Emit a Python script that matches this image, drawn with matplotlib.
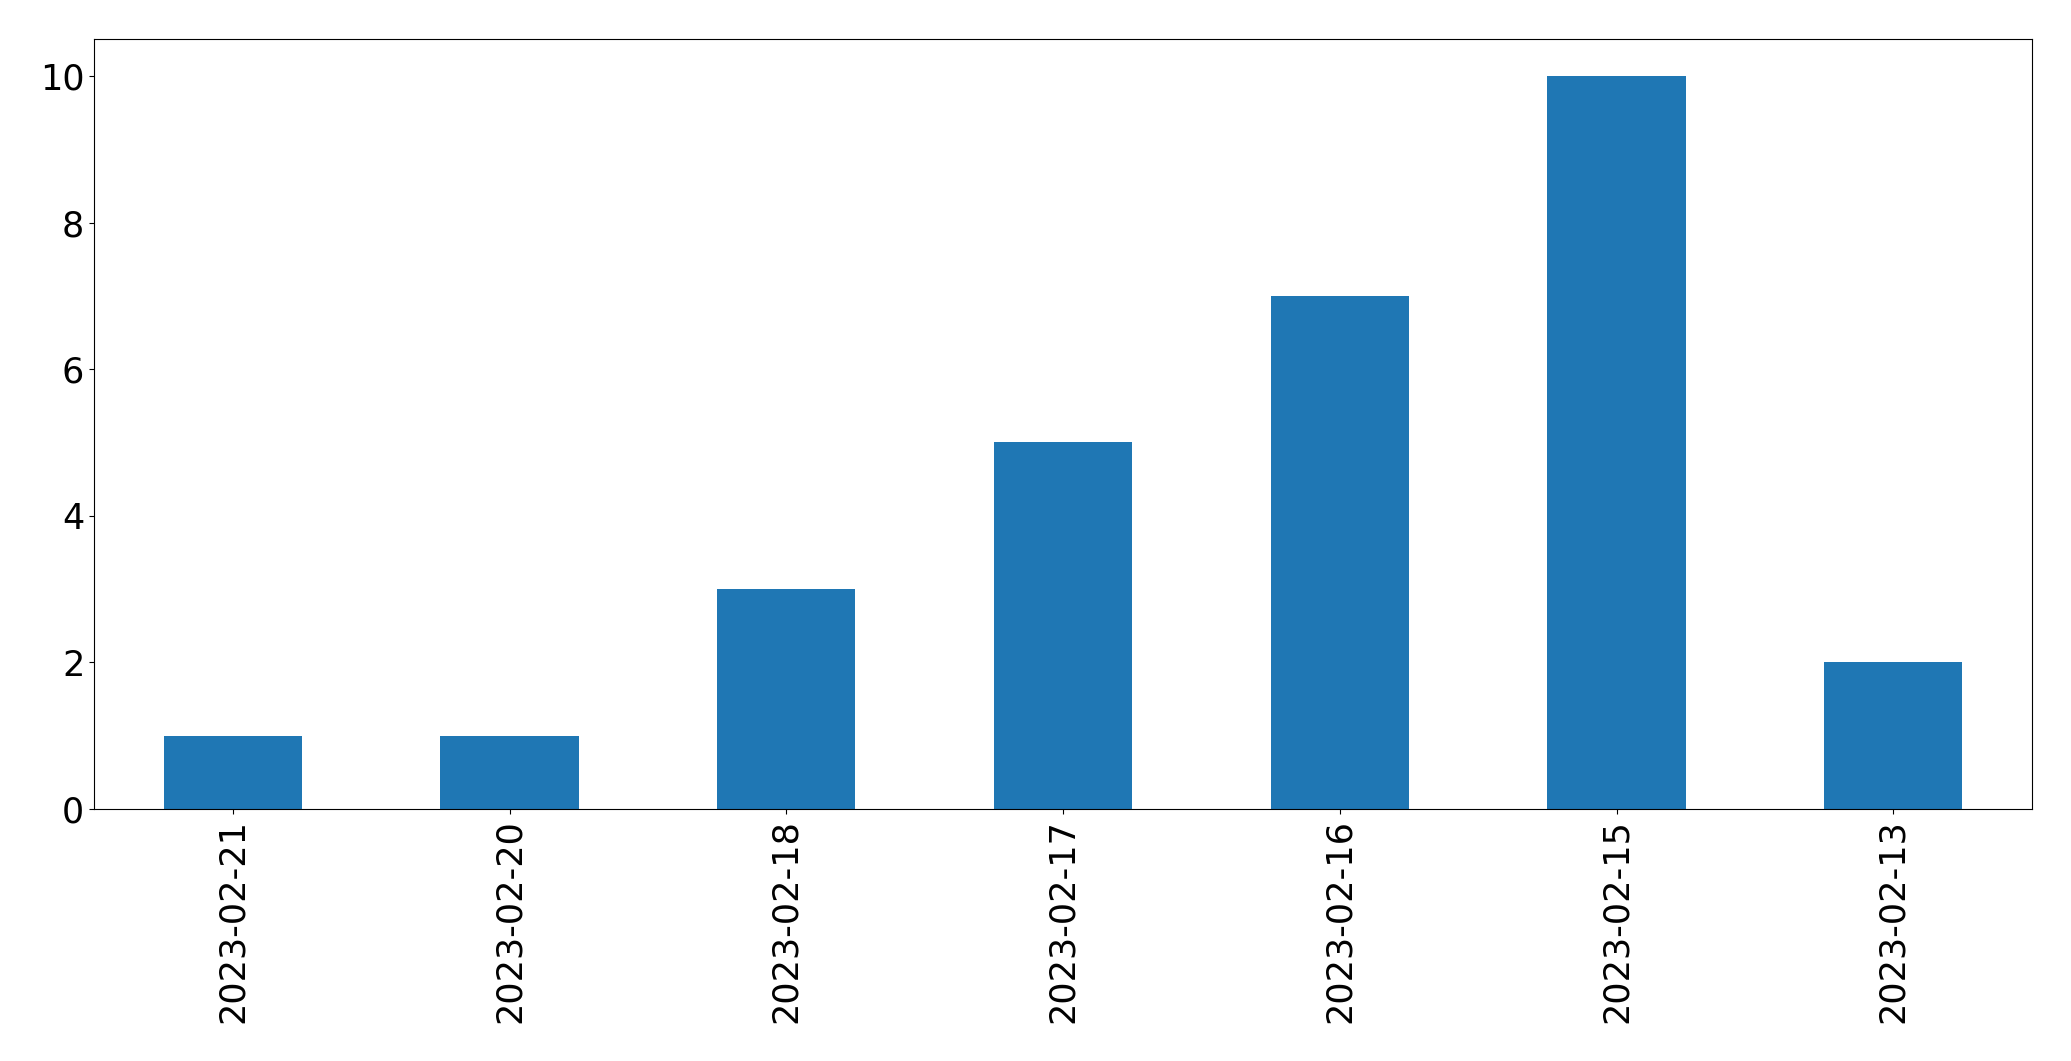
import matplotlib
matplotlib.use("Agg")
import matplotlib.pyplot as plt

dates = ["2023-02-21", "2023-02-20", "2023-02-18", "2023-02-17",
         "2023-02-16", "2023-02-15", "2023-02-13"]
counts = [1, 1, 3, 5, 7, 10, 2]

fig = plt.figure(figsize=(20.71, 10.61), dpi=100)
ax = fig.add_axes([0.0456, 0.2375, 0.9354, 0.7255])

x = range(len(dates))
ax.bar(x, counts, width=0.5, color="#1f77b4", linewidth=0)
ax.set_xticks(list(x))
ax.set_xticklabels(dates, rotation=90)
ax.set_xlim(-0.5, len(dates) - 0.5)
ax.set_ylim(0, 10.5)
ax.set_yticks([0, 2, 4, 6, 8, 10])
ax.tick_params(labelsize=25.2, length=3.8)

fig.savefig("out.png", dpi=100)
